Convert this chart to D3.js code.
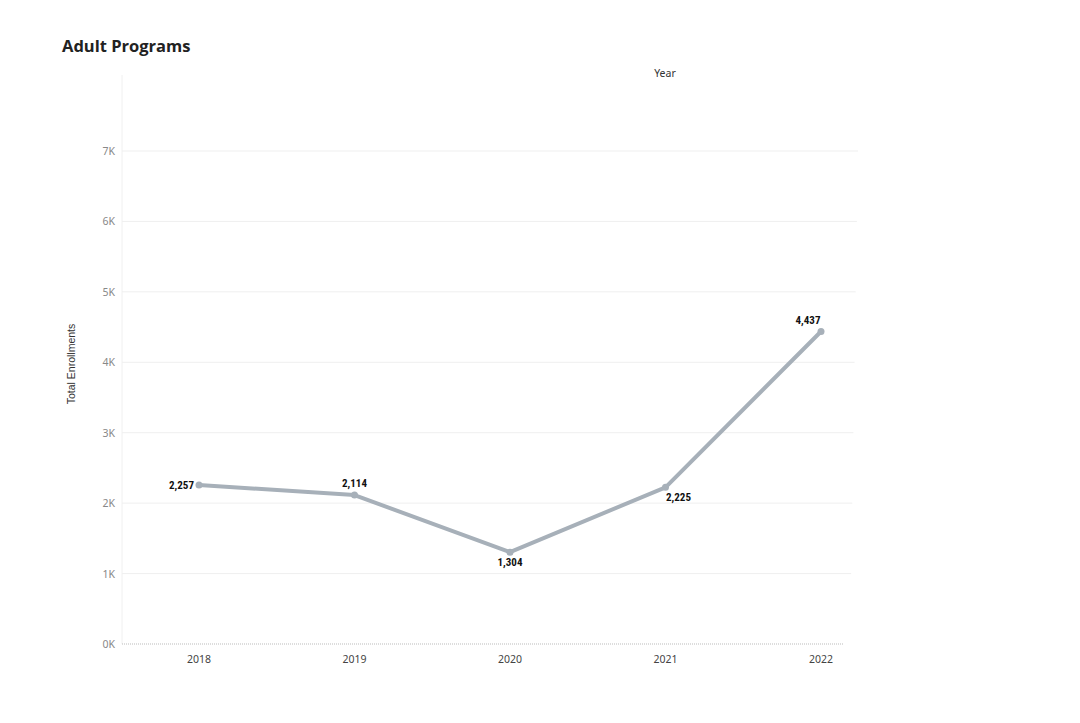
<!DOCTYPE html>
<html><head><meta charset="utf-8">
<script src="https://cdn.jsdelivr.net/npm/d3@7"></script>
<style>body{margin:0;background:#fff}svg{display:block}</style>
</head><body>
<svg id="c" width="1080" height="723"></svg>
<script>
const years = ["2018","2019","2020","2021","2022"];
const enrollments = [2257, 2114, 1304, 2225, 4437];
const yTicks = [0,1000,2000,3000,4000,5000,6000,7000];
const tickLabels = ["0K","1K","2K","3K","4K","5K","6K","7K"];
const labelPlacement = ["left","above","below","belowright","aboveleft"];

const svg = d3.select("#c");
const x = d3.scalePoint().domain(years).range([199, 821]);
const y = d3.scaleLinear().domain([0, 7000]).range([644, 151]);
const x0 = 122, x1 = 850;

svg.append("text").attr("x", 62).attr("y", 52).text("Adult Programs")
  .attr("font-family","'Open Sans', 'Noto Sans', sans-serif").attr("font-weight","bold")
  .attr("font-size",16.5).attr("fill","#222");
svg.append("text").attr("x", 665).attr("y", 77).attr("text-anchor","middle").text("Year")
  .attr("font-family","'Noto Sans', sans-serif").attr("font-size",10.5).attr("fill","#333");
svg.append("text").attr("transform","translate(75,364) rotate(-90)").attr("text-anchor","middle")
  .text("Total Enrollments").attr("font-family","'Liberation Sans', Arial, sans-serif")
  .attr("font-size",10.5).attr("fill","#333");

// vertical axis line
svg.append("line").attr("x1",x0).attr("x2",x0).attr("y1",75).attr("y2",644)
  .attr("stroke","#f0f0f0").attr("stroke-width",1);

// gridlines and ticks
const g = svg.append("g");
yTicks.forEach((t,i)=>{
  if (t>0) g.append("line").attr("x1",x0).attr("x2",x1 + (t/7000)*8).attr("y1",y(t)).attr("y2",y(t))
    .attr("stroke","#efefef").attr("stroke-width",1);
  g.append("text").attr("x",115).attr("y",y(t)+4).attr("text-anchor","end").text(tickLabels[i])
    .attr("font-family","'Noto Sans', sans-serif").attr("font-size",10.5).attr("fill","#888");
});
svg.append("line").attr("x1",x0).attr("x2",843).attr("y1",y(0)).attr("y2",y(0))
  .attr("stroke","#bbb").attr("stroke-width",1).attr("stroke-dasharray","1,1");

// x axis labels
years.forEach(yr=>{
  svg.append("text").attr("x",x(yr)).attr("y",663).attr("text-anchor","middle").text(yr)
    .attr("font-family","'Noto Sans', sans-serif").attr("font-size",10.5).attr("fill","#444");
});

const data = years.map((yr,i)=>({yr, v:enrollments[i], p:labelPlacement[i]}));
const line = d3.line().x(d=>x(d.yr)).y(d=>y(d.v));
svg.append("path").datum(data).attr("d",line).attr("fill","none")
  .attr("stroke","#a7b0b9").attr("stroke-width",4).attr("stroke-linejoin","round");
svg.selectAll("circle.pt").data(data).enter().append("circle")
  .attr("cx",d=>x(d.yr)).attr("cy",d=>y(d.v)).attr("r",3.5).attr("fill","#a7b0b9");

const fmt = d3.format(",");
svg.selectAll("text.lbl").data(data).enter().append("text")
  .attr("x",d=>{const px=x(d.yr); return d.p==="left"?px-5:d.p==="belowright"?px+13:d.p==="aboveleft"?px-13:px;})
  .attr("y",d=>{const py=y(d.v); return d.p==="left"?py+4:d.p==="above"?py-8:d.p==="aboveleft"?py-8:py+14;})
  .attr("text-anchor",d=>d.p==="left"?"end":"middle")
  .text(d=>fmt(d.v))
  .attr("font-family","'Liberation Sans Narrow', 'Roboto Condensed', 'DejaVu Sans Condensed', sans-serif")
  .attr("font-weight","bold").attr("font-size",11).attr("fill","#111");
</script>
</body></html>
